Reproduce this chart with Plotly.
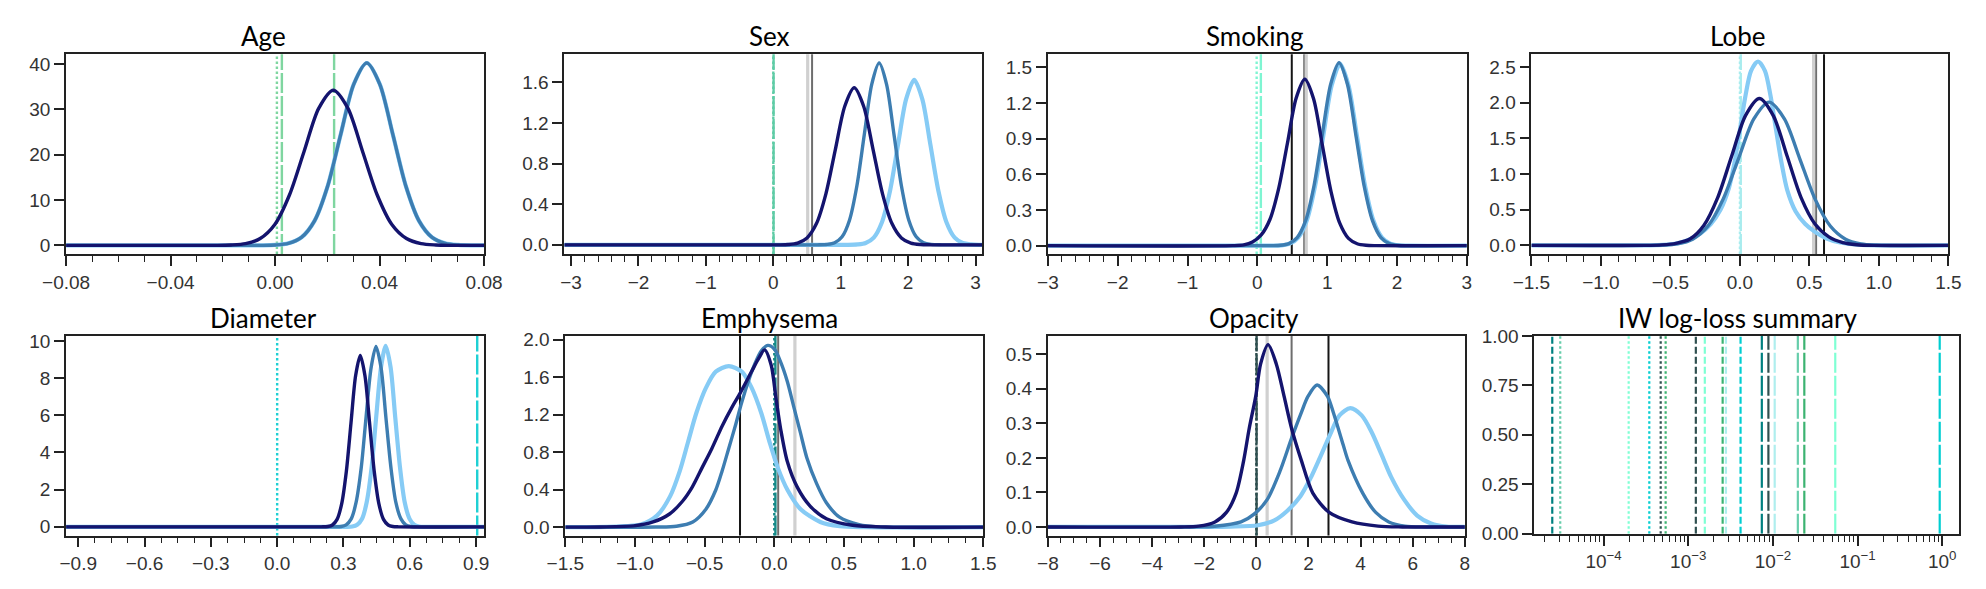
import plotly.graph_objects as go
from plotly.subplots import make_subplots

W, H = 1986, 589

# ---------------- curves ----------------
# Age
AGE_NAVY_X = [-0.08, -0.022, -0.0169, -0.0113, -0.0057, -0.0001, 0.0055, 0.0111, 0.0167, 0.0223,
              0.0279, 0.0335, 0.0391, 0.0447, 0.0503, 0.0559, 0.0615, 0.067, 0.08]
AGE_NAVY_Y = [0, 0, 0.08, 0.38, 1.5, 4.6, 11.1, 20.7, 30.2, 34.2, 30.2, 20.7, 11.1, 4.6, 1.5, 0.38, 0.08, 0, 0]
AGE_STEEL_X = [-0.08, -0.005, 0.0001, 0.0051, 0.0101, 0.0151, 0.0201, 0.0251, 0.0301, 0.0351,
               0.0401, 0.0451, 0.0501, 0.0551, 0.0601, 0.0651, 0.0701, 0.075, 0.08]
AGE_STEEL_Y = [0, 0, 0.09, 0.45, 1.76, 5.4, 13.0, 24.4, 35.5, 40.2, 35.5, 24.4, 13.0, 5.4, 1.76, 0.45, 0.09, 0, 0]
AGE_LIGHT_X = [-0.08, -0.005, 0.0001, 0.0051, 0.0101, 0.0151, 0.0201, 0.0251, 0.0301, 0.0351,
               0.0401, 0.0451, 0.0501, 0.0551, 0.0601, 0.0651, 0.0701, 0.075, 0.08]
AGE_LIGHT_Y = [0, 0, 0.09, 0.45, 1.76, 5.4, 13.0, 24.4, 35.5, 40.2, 35.5, 24.4, 13.0, 5.4, 1.76, 0.45, 0.09, 0, 0]

# Sex
SEX_NAVY_X = [-3.1, 0.1, 0.22, 0.36, 0.50, 0.64, 0.78, 0.92, 1.06, 1.20, 1.34, 1.48, 1.62, 1.76, 1.90, 2.04, 2.18, 2.35, 3.1]
SEX_NAVY_Y = [0, 0, 0.003, 0.017, 0.068, 0.209, 0.502, 0.938, 1.364, 1.546, 1.364, 0.938, 0.502, 0.209, 0.068, 0.017, 0.003, 0, 0]
SEX_STEEL_X = [-3.1, 0.65, 0.80, 0.91, 1.02, 1.13, 1.24, 1.35, 1.46, 1.57, 1.68, 1.79, 1.90, 2.01, 2.12, 2.23, 2.34, 2.5, 3.1]
SEX_STEEL_Y = [0, 0, 0.004, 0.020, 0.079, 0.242, 0.581, 1.086, 1.580, 1.79, 1.580, 1.086, 0.581, 0.242, 0.079, 0.020, 0.004, 0, 0]
SEX_LIGHT_X = [-3.1, 1.1, 1.25, 1.37, 1.49, 1.61, 1.73, 1.85, 1.97, 2.09, 2.21, 2.33, 2.45, 2.57, 2.69, 2.81, 2.93, 3.05, 3.1]
SEX_LIGHT_Y = [0, 0, 0.004, 0.018, 0.071, 0.220, 0.528, 0.986, 1.434, 1.625, 1.434, 0.986, 0.528, 0.220, 0.071, 0.018, 0.004, 0, 0]

# Smoking
SMOKING_NAVY_X = [-3, -0.35, -0.195, -0.07, 0.055, 0.18, 0.305, 0.43, 0.555, 0.68, 0.805, 0.93, 1.055, 1.18, 1.305, 1.43, 1.555, 1.7, 3]
SMOKING_NAVY_Y = [0, 0, 0.006, 0.03, 0.09, 0.22, 0.48, 0.86, 1.24, 1.40, 1.236, 0.849, 0.455, 0.189, 0.061, 0.016, 0.003, 0, 0]
SMOKING_STEEL_X = [-3, 0.2, 0.33, 0.45, 0.57, 0.69, 0.81, 0.93, 1.05, 1.17, 1.29, 1.41, 1.53, 1.65, 1.77, 1.89, 2.01, 2.15, 3]
SMOKING_STEEL_Y = [0, 0, 0.003, 0.017, 0.068, 0.208, 0.500, 0.934, 1.359, 1.54, 1.359, 0.934, 0.500, 0.208, 0.068, 0.017, 0.003, 0, 0]
SMOKING_LIGHT_X = [-3, 0.215, 0.345, 0.465, 0.585, 0.705, 0.825, 0.945, 1.065, 1.185, 1.305, 1.425, 1.545, 1.665, 1.785, 1.905, 2.025, 2.165, 3]
SMOKING_LIGHT_Y = [0, 0, 0.003, 0.017, 0.068, 0.207, 0.497, 0.928, 1.350, 1.53, 1.350, 0.928, 0.497, 0.207, 0.068, 0.017, 0.003, 0, 0]

# Lobe
LOBE_NAVY_X = [-1.5, -0.68, -0.56, -0.46, -0.36, -0.26, -0.16, -0.06, 0.04, 0.14, 0.24, 0.34, 0.44, 0.54, 0.64, 0.74, 0.84, 0.96, 1.5]
LOBE_NAVY_Y = [0, 0, 0.008, 0.03, 0.09, 0.28, 0.67, 1.25, 1.82, 2.06, 1.82, 1.25, 0.67, 0.30, 0.12, 0.04, 0.01, 0, 0]
LOBE_STEEL_X = [-1.5, -0.68, -0.56, -0.45, -0.34, -0.23, -0.12, -0.01, 0.10, 0.21, 0.32, 0.43, 0.54, 0.65, 0.76, 0.87, 0.98, 1.1, 1.5]
LOBE_STEEL_Y = [0, 0, 0.004, 0.022, 0.088, 0.272, 0.653, 1.219, 1.774, 2.01, 1.774, 1.219, 0.653, 0.272, 0.088, 0.022, 0.004, 0, 0]
LOBE_LIGHT_X = [-1.5, -0.75, -0.6, -0.48, -0.38, -0.29, -0.21, -0.14, -0.08, -0.04, 0.0, 0.04, 0.08, 0.13,
                0.18, 0.22, 0.26, 0.30, 0.34, 0.40, 0.47, 0.54, 0.62, 0.72, 0.85, 1.0, 1.5]
LOBE_LIGHT_Y = [0, 0, 0.004, 0.02, 0.07, 0.16, 0.3, 0.5, 0.8, 1.15, 1.62, 2.1, 2.45, 2.58,
                2.45, 2.1, 1.62, 1.15, 0.78, 0.48, 0.30, 0.19, 0.10, 0.04, 0.01, 0, 0]

# Diameter
DIAM_NAVY_X = [-0.955, 0.2, 0.229, 0.25, 0.271, 0.292, 0.313, 0.334, 0.355, 0.376, 0.397, 0.418, 0.439, 0.46, 0.481, 0.502, 0.523, 0.55, 0.936]
DIAM_NAVY_Y = [0, 0, 0.02, 0.10, 0.40, 1.25, 2.99, 5.59, 8.14, 9.22, 8.14, 5.59, 2.99, 1.25, 0.40, 0.10, 0.02, 0, 0]
DIAM_STEEL_X = [-0.955, 0.26, 0.29, 0.312, 0.335, 0.357, 0.38, 0.402, 0.425, 0.447, 0.47, 0.492, 0.515, 0.537, 0.56, 0.582, 0.605, 0.635, 0.936]
DIAM_STEEL_Y = [0, 0, 0.02, 0.11, 0.43, 1.31, 3.15, 5.88, 8.56, 9.7, 8.56, 5.88, 3.15, 1.31, 0.43, 0.11, 0.02, 0, 0]
DIAM_LIGHT_X = [-0.955, 0.31, 0.34, 0.362, 0.384, 0.405, 0.427, 0.448, 0.47, 0.491, 0.513, 0.534, 0.556, 0.577, 0.599, 0.62, 0.642, 0.67, 0.936]
DIAM_LIGHT_Y = [0, 0, 0.02, 0.11, 0.43, 1.32, 3.16, 5.91, 8.60, 9.74, 8.60, 5.91, 3.16, 1.32, 0.43, 0.11, 0.02, 0, 0]

# Emphysema
EMPH_NAVY_X = [-1.5, -1.25, -1.01, -0.87, -0.752, -0.659, -0.588, -0.518, -0.448, -0.374, -0.307, -0.245, -0.163,
               -0.116, -0.069, -0.022, 0.011, 0.046, 0.093, 0.164, 0.257, 0.374, 0.562, 0.8, 1.5]
EMPH_NAVY_Y = [0, 0.002, 0.014, 0.055, 0.140, 0.276, 0.430, 0.635, 0.840, 1.08, 1.27, 1.43, 1.66,
               1.79, 1.891, 1.727, 1.386, 1.045, 0.703, 0.430, 0.225, 0.089, 0.02, 0.002, 0]
EMPH_STEEL_X = [-1.5, -0.85, -0.702, -0.585, -0.491, -0.420, -0.374, -0.327, -0.280, -0.233, -0.186, -0.139, -0.093,
                -0.046, 0.001, 0.046, 0.093, 0.140, 0.187, 0.234, 0.304, 0.374, 0.468, 0.609, 0.749, 1.5]
EMPH_STEEL_Y = [0, 0.001, 0.01, 0.055, 0.191, 0.396, 0.601, 0.840, 1.079, 1.335, 1.557, 1.744, 1.881,
                1.939, 1.898, 1.761, 1.557, 1.284, 1.011, 0.738, 0.464, 0.260, 0.106, 0.027, 0.003, 0]
EMPH_LIGHT_X = [-1.5, -1.2, -1.076, -0.959, -0.842, -0.748, -0.678, -0.619, -0.560, -0.490, -0.420, -0.327,
                -0.233, -0.163, -0.093, -0.034, 0.025, 0.095, 0.189, 0.330, 0.470, 0.65, 1.5]
EMPH_LIGHT_Y = [0, 0.002, 0.01, 0.027, 0.123, 0.328, 0.601, 0.908, 1.215, 1.488, 1.659, 1.717,
                1.659, 1.488, 1.215, 0.908, 0.635, 0.396, 0.191, 0.055, 0.01, 0, 0]

# Opacity
OPAC_NAVY_X = [-8, -2.9, -2.22, -1.59, -1.15, -0.776, -0.488, -0.275, -0.025, 0.163, 0.45, 0.764, 1.064, 1.352,
               1.728, 2.166, 2.792, 3.67, 4.67, 5.6, 8]
OPAC_NAVY_Y = [0, 0, 0.0024, 0.0145, 0.042, 0.098, 0.192, 0.285, 0.378, 0.472, 0.528, 0.472, 0.378, 0.285,
               0.192, 0.098, 0.042, 0.0145, 0.0024, 0, 0]
OPAC_STEEL_X = [-8, -2.4, -1.6, -0.589, -0.088, 0.413, 0.914, 1.352, 1.728, 1.98, 2.329, 2.73, 2.95, 3.33,
                3.52, 4.08, 4.58, 5.08, 5.7, 6.5, 8]
OPAC_STEEL_Y = [0, 0, 0.002, 0.0145, 0.037, 0.079, 0.163, 0.257, 0.332, 0.378, 0.411, 0.378, 0.332, 0.238,
                0.192, 0.098, 0.042, 0.0145, 0.0024, 0, 0]
OPAC_LIGHT_X = [-8, -1.8, -1.0, 0.06, 0.69, 1.19, 1.69, 2.07, 2.44, 2.82, 3.19, 3.606, 4.04, 4.42, 4.80, 5.17,
                5.67, 6.17, 6.7, 7.3, 8]
OPAC_LIGHT_Y = [0, 0, 0.001, 0.005, 0.019, 0.047, 0.089, 0.140, 0.201, 0.266, 0.323, 0.344, 0.323, 0.275, 0.210,
                0.145, 0.079, 0.033, 0.010, 0.001, 0]

# vertical markers: coloured feature lines (dotted first, then long dashes)
AGE_MARKS = [0.0007, 0.0026, 0.0226]
SEX_MARKS = [0.0, 0.004]
SMOKING_MARKS = [-0.01, 0.05]
LOBE_MARKS = [0.0, 0.006]
DIAM_MARKS = [0.0, 0.905]
EMPH_MARKS = [0.0, 0.008]
OPAC_MARKS = [0.0, 0.008]

# reference lines [black, grey, light grey]
SEX_REF = [None, 0.575, 0.51]
SMOKING_REF = [0.493, 0.671, 0.70]
LOBE_REF = [0.605, 0.548, 0.53]
EMPH_REF = [-0.246, 0.028, 0.148]
OPAC_REF = [2.767, 1.352, 0.413]

# IW log-loss summary lines
IW_VALUES = [2.48e-5, 3.08e-5, 1.98e-4, 3.47e-4, 4.73e-4, 5.41e-4, 1.23e-3, 1.57e-3, 2.55e-3,
             2.79e-3, 4.15e-3, 7.4e-3, 8.85e-3, 1.05e-2, 1.97e-2, 2.35e-2, 5.45e-2, 0.933]
IW_FEATURE = ["Emphysema", "Sex", "Smoking", "Diameter", "Opacity", "Age", "Opacity", "Smoking", "Age",
              "Lobe", "Diameter", "Emphysema", "Opacity", "Lobe", "Sex", "Age", "Smoking", "Diameter"]
IW_STYLE = ["dash", "dot", "dot", "dot", "dot", "dot", "dash", "dash", "dash",
            "dash", "dash", "long", "long", "long", "long", "long", "long", "long"]
IW_TICKS = [1e-4, 1e-3, 1e-2, 1e-1, 1e0]
IW_TICK_TEXT = ["10<sup>\u22124</sup>", "10<sup>\u22123</sup>", "10<sup>\u22122</sup>",
                "10<sup>\u22121</sup>", "10<sup>0</sup>"]

TITLES = ["Age", "Sex", "Smoking", "Lobe", "Diameter", "Emphysema", "Opacity", "IW log-loss summary"]

# ---------------- styling ----------------
NAVY = "#14146e"
STEEL = "#3d7db1"
LIGHT = "#86cbf5"
FEATURE_COLOR = {"Age": "#7fd6a0", "Sex": "#5fcca6", "Smoking": "#7ff5d2", "Lobe": "#a8ecee",
                 "Diameter": "#1fd0d4", "Emphysema": "#168a88", "Opacity": "#2f4f4f"}
IW_COLOR = {"Age": "#3cb371", "Sex": "#66cdaa", "Smoking": "#7fffd4", "Lobe": "#afeeee",
            "Diameter": "#00ced1", "Emphysema": "#008080", "Opacity": "#2f4f4f"}
DASH = {"dot": "2.5px,2.5px", "dash": "7px,3px", "long": "20px,3px"}
REF_COLOR = ["#151515", "#6e6e6e", "#d0d0d0"]
REF_WIDTH = [2, 2, 3.2]
AXC = "#222222"
TICK_FONT = dict(family="Liberation Sans, Arial", size=19, color="#333333")

fig = make_subplots(rows=2, cols=4)

panels = [
    ((AGE_LIGHT_X, AGE_LIGHT_Y), (AGE_STEEL_X, AGE_STEEL_Y), (AGE_NAVY_X, AGE_NAVY_Y), AGE_MARKS, None, "Age"),
    ((SEX_LIGHT_X, SEX_LIGHT_Y), (SEX_STEEL_X, SEX_STEEL_Y), (SEX_NAVY_X, SEX_NAVY_Y), SEX_MARKS, SEX_REF, "Sex"),
    ((SMOKING_LIGHT_X, SMOKING_LIGHT_Y), (SMOKING_STEEL_X, SMOKING_STEEL_Y), (SMOKING_NAVY_X, SMOKING_NAVY_Y),
     SMOKING_MARKS, SMOKING_REF, "Smoking"),
    ((LOBE_LIGHT_X, LOBE_LIGHT_Y), (LOBE_STEEL_X, LOBE_STEEL_Y), (LOBE_NAVY_X, LOBE_NAVY_Y), LOBE_MARKS, LOBE_REF, "Lobe"),
    ((DIAM_LIGHT_X, DIAM_LIGHT_Y), (DIAM_STEEL_X, DIAM_STEEL_Y), (DIAM_NAVY_X, DIAM_NAVY_Y), DIAM_MARKS, None, "Diameter"),
    ((EMPH_LIGHT_X, EMPH_LIGHT_Y), (EMPH_STEEL_X, EMPH_STEEL_Y), (EMPH_NAVY_X, EMPH_NAVY_Y), EMPH_MARKS, EMPH_REF, "Emphysema"),
    ((OPAC_LIGHT_X, OPAC_LIGHT_Y), (OPAC_STEEL_X, OPAC_STEEL_Y), (OPAC_NAVY_X, OPAC_NAVY_Y), OPAC_MARKS, OPAC_REF, "Opacity"),
]

for i, (light, steel, navy, marks, refs, feat) in enumerate(panels):
    r, c = i // 4 + 1, i % 4 + 1
    for (xs, ys), col, w in ((light, LIGHT, 4.2), (steel, STEEL, 3.4), (navy, NAVY, 3.4)):
        fig.add_trace(go.Scatter(x=xs, y=ys, mode="lines", line=dict(color=col, width=w, shape="spline", smoothing=0.8),
                                 hoverinfo="skip", showlegend=False), row=r, col=c)
    for j, v in enumerate(marks):
        fig.add_vline(x=v, line=dict(color=FEATURE_COLOR[feat], width=2.4, dash=DASH["dot" if j == 0 else "long"]),
                      layer="below", row=r, col=c, exclude_empty_subplots=False)
    if refs:
        for k, v in enumerate(refs):
            if v is None:
                continue
            fig.add_vline(x=v, line=dict(color=REF_COLOR[k], width=REF_WIDTH[k]), layer="below",
                          row=r, col=c, exclude_empty_subplots=False)

for v, feat, st in zip(IW_VALUES, IW_FEATURE, IW_STYLE):
    fig.add_trace(go.Scatter(x=[v, v], y=[0, 1], mode="lines",
                             line=dict(color=IW_COLOR[feat], width=2.2, dash=DASH[st]),
                             hoverinfo="skip", showlegend=False), row=2, col=4)

# pixel boxes of the eight panels (left, right, top, bottom)
boxes = [(43, 470, 46, 253), (552, 979, 46, 253), (1046, 1474, 46, 253), (1540, 1966, 46, 253),
         (43, 470, 338, 545), (553, 980, 338, 545), (1046, 1472, 338, 545), (1543, 1977, 338, 543)]
title_x = [245, 762, 1257, 1751]

x_ranges = [[-0.08, 0.08], [-3.1, 3.1], [-3, 3], [-1.5, 1.5], [-0.955, 0.936], [-1.5, 1.5], [-8, 8], [-4.817, 0.2]]
y_ranges = [[-1.9, 42.1], [-0.09, 1.875], [-0.07, 1.61], [-0.12, 2.68], [-0.47, 10.27], [-0.09, 2.04],
            [-0.025, 0.553], [0, 1]]
x_dtick = [0.04, 1, 1, 0.5, 0.3, 0.5, 2, None]
x_minor = [0.01, 0.2, 0.2, 0.125, 0.075, 0.125, 0.5, None]
x_fmt = [".2f", "d", "d", ".1f", ".1f", ".1f", "d", None]
y_dtick = [10, 0.4, 0.3, 0.5, 2, 0.4, 0.1, 0.25]
y_fmt = ["d", ".1f", ".1f", ".1f", "d", ".1f", ".1f", ".2f"]

common = dict(showline=True, mirror=True, linecolor=AXC, linewidth=1.8, ticks="outside", ticklen=10,
              tickwidth=1.6, tickcolor=AXC, showgrid=False, zeroline=False, tickfont=TICK_FONT)

for i in range(8):
    L, R, T, B = boxes[i]
    xa = dict(common, domain=[L / W, R / W], range=x_ranges[i])
    if i < 7:
        xa.update(tick0=0, dtick=x_dtick[i], tickformat=x_fmt[i],
                  minor=dict(ticks="outside", dtick=x_minor[i], tick0=0, ticklen=6, tickwidth=1.4, tickcolor=AXC))
    else:
        minor_vals = [k * 10.0 ** e for e in range(-5, 0) for k in range(2, 10)]
        xa.update(type="log", tickmode="array", tickvals=IW_TICKS, ticktext=IW_TICK_TEXT,
                  minor=dict(ticks="outside", tickmode="array", tickvals=minor_vals, ticklen=6,
                             tickwidth=1.4, tickcolor=AXC))
    ya = dict(common, domain=[1 - B / H, 1 - T / H], range=y_ranges[i], tick0=0, dtick=y_dtick[i],
              tickformat=y_fmt[i])
    sfx = "" if i == 0 else str(i + 1)
    fig.layout["xaxis" + sfx].update(xa)
    fig.layout["yaxis" + sfx].update(ya)
    fig.add_annotation(text=TITLES[i], xref="paper", yref="paper", x=title_x[i % 4] / W, y=1 - T / H,
                       xanchor="center", yanchor="bottom", showarrow=False,
                       font=dict(family="Lato, Open Sans", size=26, color="#000000"))

fig.update_layout(width=W, height=H, margin=dict(l=0, r=0, t=0, b=0), autosize=False,
                  paper_bgcolor="white", plot_bgcolor="white", showlegend=False)

fig.write_html("out.html", config={"displayModeBar": False},
               post_script="document.body.style.margin='0';")
